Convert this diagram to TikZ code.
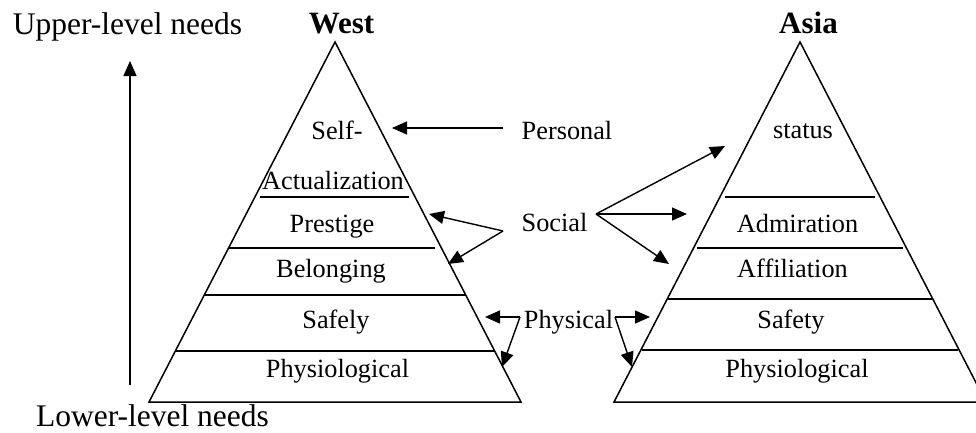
\documentclass[tikz,border=0pt]{standalone}
\usepackage{fontspec}
\setmainfont{Liberation Serif}
\usetikzlibrary{arrows.meta}
\begin{document}
\begin{tikzpicture}[x=1pt,y=-1pt,
  edge/.style={line width=1.5pt, line join=miter},
  tier/.style={line width=1.6pt},
  link/.style={line width=1.4pt, -{Triangle[length=15pt,width=13pt]}},
  lvl/.style={anchor=base, font=\fontsize{26.3}{30}\selectfont, inner sep=0pt},
  big/.style={anchor=base, font=\fontsize{31.5}{36}\selectfont, inner sep=0pt},
  head/.style={anchor=base, font=\fontsize{31}{36}\selectfont\bfseries, inner sep=0pt}]
\useasboundingbox (0,0) rectangle (976,432);
\clip (0,0) rectangle (976,432);

% West pyramid
\coordinate (wtop) at (335,42);
\coordinate (wbl) at (149,402);
\coordinate (wbr) at (521,402);
\draw[edge] (wtop) -- (wbl) -- (wbr) -- cycle;
\draw[tier] (260,197) -- (409,197);
\draw[tier] (229,248) -- (435,248);
\draw[tier] (204,295) -- (466,295);
\draw[tier] (176,351) -- (494,351);

% Asia pyramid
\coordinate (atop) at (800,42);
\coordinate (abl) at (614,402);
\coordinate (abr) at (986,402);
\draw[edge] (atop) -- (abl) -- (abr) -- cycle;
\draw[tier] (725,197) -- (875,197);
\draw[tier] (697,248) -- (903,248);
\draw[tier] (668,299) -- (932,299);
\draw[tier] (642,350) -- (958,350);

% Headings and axis labels
\node[head] (west) at (341.5,33) {West};
\node[head] (asia) at (808.5,33) {Asia};
\node[big] (upper) at (127.5,34) {Upper-level needs};
\node[big] (lower) at (152.5,426) {Lower-level needs};

% West levels
\node[lvl] (wself) at (337,139) {Self-};
\node[lvl] (wact) at (333,189) {Actualization};
\node[lvl] (wpres) at (332,232) {Prestige};
\node[lvl] (wbel) at (331,277) {Belonging};
\node[lvl] (wsaf) at (336,328) {Safely};
\node[lvl] (wphy) at (337.5,377) {Physiological};

% Asia levels
\node[lvl] (astat) at (803,138) {status};
\node[lvl] (aadm) at (797.5,232) {Admiration};
\node[lvl] (aaff) at (792.5,277) {Affiliation};
\node[lvl] (asaf) at (791,328) {Safety};
\node[lvl] (aphy) at (797,377) {Physiological};

% Category labels
\node[lvl] (personal) at (567,139) {Personal};
\node[lvl] (social) at (554.5,231) {Social};
\node[lvl] (physical) at (568.5,328) {Physical};

% Upward axis arrow
\coordinate (axlow) at (130,385);
\coordinate (axhigh) at (130,61);
\draw[link] (axlow) -- (axhigh);

% Personal
\coordinate (perfrom) at (503,128);
\coordinate (perto) at (392,128);
\draw[link] (perfrom) -- (perto);

% Social, west side
\coordinate (socw) at (503,231);
\coordinate (socwa) at (429,214);
\coordinate (socwb) at (448,264);
\draw[link] (socw) -- (socwa);
\draw[link] (socw) -- (socwb);

% Social, asia side
\coordinate (soca) at (596,214);
\coordinate (socaa) at (725,146);
\coordinate (socab) at (687,214);
\coordinate (socac) at (669,264);
\draw[link] (soca) -- (socaa);
\draw[link] (soca) -- (socab);
\draw[link] (soca) -- (socac);

% Physical, west side
\coordinate (phyw) at (520,317);
\coordinate (phywa) at (485,317);
\coordinate (phywb) at (502,367);
\draw[link] (phyw) -- (phywa);
\draw[link] (phyw) -- (phywb);

% Physical, asia side
\coordinate (phya) at (615,317);
\coordinate (phyaa) at (650,317);
\coordinate (phyab) at (632,367);
\draw[link] (phya) -- (phyaa);
\draw[link] (phya) -- (phyab);
\end{tikzpicture}
\end{document}
